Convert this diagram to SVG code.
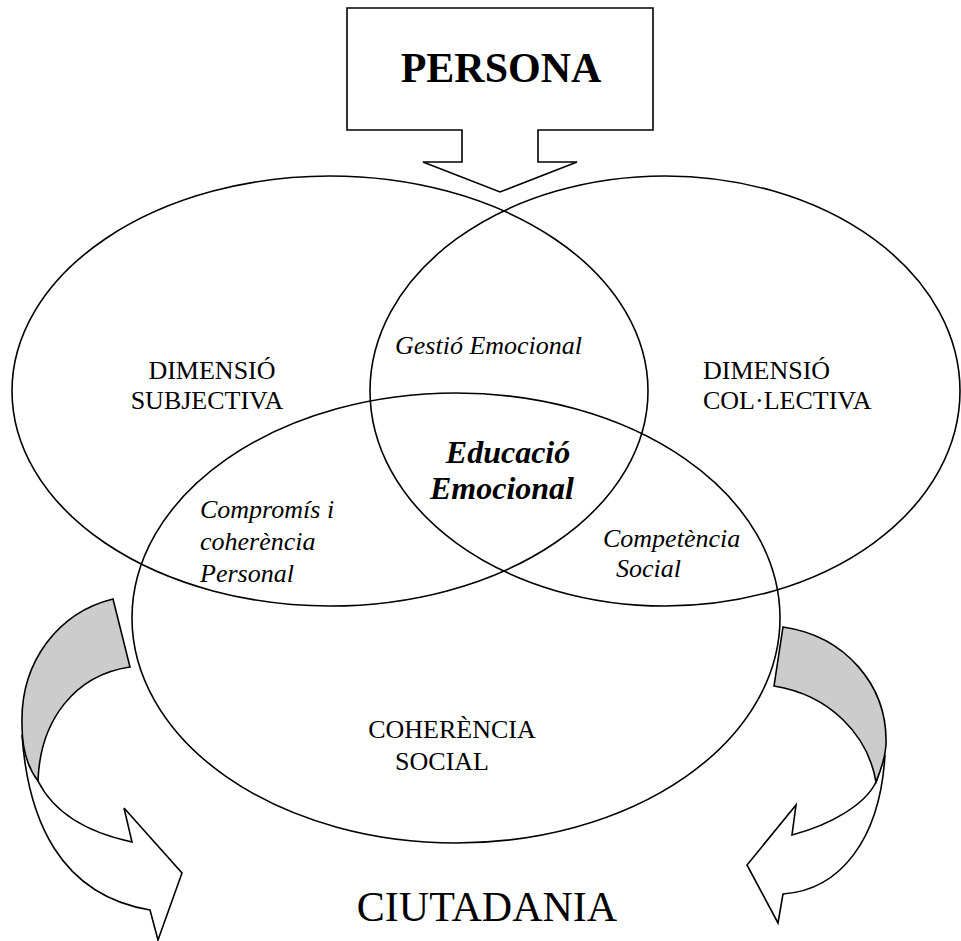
<svg xmlns="http://www.w3.org/2000/svg" width="961" height="941" viewBox="0 0 961 941">
<style>
.ln{fill:none;stroke:#000;stroke-width:1.6}
.wh{fill:#fff;stroke:#000;stroke-width:1.6;stroke-linejoin:miter}
.gr{fill:#cccccc;stroke:#000;stroke-width:1.6;stroke-linejoin:miter}
text{font-family:"Liberation Serif","Times New Roman",serif;fill:#000}
.r{font-size:26px}
.i{font-size:26px;font-style:italic}
</style>
<rect width="961" height="941" fill="#fff"/>
<g id="persona">
<path class="ln" d="M347,8 H653 V130 H538 V162 H577 L500,192 L423,162 H462 V130 H347 Z"/>
<text x="501" y="82" font-size="42" font-weight="bold" text-anchor="middle">PERSONA</text>
</g>
<g id="dim-subjectiva">
<ellipse class="ln" cx="330" cy="391" rx="318" ry="215"/>
<text class="r" x="212" y="379" text-anchor="middle">DIMENSIÓ</text>
<text class="r" x="207" y="409" text-anchor="middle">SUBJECTIVA</text>
</g>
<g id="dim-collectiva">
<ellipse class="ln" cx="665" cy="391" rx="295" ry="215"/>
<text class="r" x="703" y="379">DIMENSIÓ</text>
<text class="r" x="703" y="409">COL·LECTIVA</text>
</g>
<g id="coherencia-social">
<ellipse class="ln" cx="456" cy="618" rx="324" ry="225"/>
<text class="r" x="452" y="738" text-anchor="middle">COHERÈNCIA</text>
<text class="r" x="442" y="770" text-anchor="middle">SOCIAL</text>
</g>
<g id="gestio">
<text class="i" x="395" y="354">Gestió Emocional</text>
</g>
<g id="educacio">
<text x="508" y="463" font-size="32" font-weight="bold" font-style="italic" text-anchor="middle">Educació</text>
<text x="502" y="499" font-size="32" font-weight="bold" font-style="italic" text-anchor="middle">Emocional</text>
</g>
<g id="compromis">
<text class="i" x="200" y="518">Compromís i</text>
<text class="i" x="200" y="550">coherència</text>
<text class="i" x="200" y="582">Personal</text>
</g>
<g id="competencia">
<text class="i" x="603" y="547">Competència</text>
<text class="i" x="616" y="577">Social</text>
</g>
<g id="connectors">
<path class="wh" d="M22,735 C28,820 60,895 150,910 L158,940 L182,873 L124,808 L132,842 C90,833 55,815 38,781 Z"/>
<path class="gr" d="M113,599 C60,612 20,660 22,725 C22,750 28,768 38,781 C40,720 75,675 130,667 Z"/>
<path class="wh" d="M885,755 C880,840 840,890 783,894 L778,923 L747,865 L796,805 L792,835 C830,825 865,805 876,782 Z"/>
<path class="gr" d="M783,627 C845,636 888,685 886,745 C885,760 880,772 876,782 C868,735 830,695 774,686 Z"/>
</g>
<g id="ciutadania">
<text x="487" y="921" font-size="42" text-anchor="middle">CIUTADANIA</text>
</g>
</svg>
